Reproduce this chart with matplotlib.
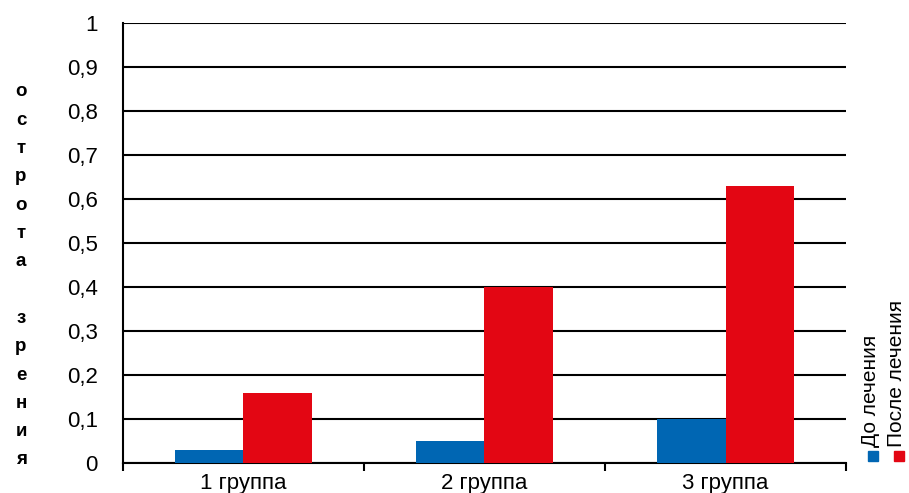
import matplotlib
matplotlib.use("Agg")
import matplotlib.pyplot as plt
from matplotlib.patches import Rectangle
import numpy as np

categories = ["1 группа", "2 группа", "3 группа"]
series_names = ["До лечения", "После лечения"]
before = [0.03, 0.05, 0.10]
after = [0.16, 0.40, 0.63]
colors = ["#0066B3", "#E30613"]
yticks = [0, 0.1, 0.2, 0.3, 0.4, 0.5, 0.6, 0.7, 0.8, 0.9, 1.0]
ytick_labels = ["0", "0,1", "0,2", "0,3", "0,4", "0,5", "0,6", "0,7", "0,8", "0,9", "1"]
ylabel = "острота зрения"

plt.rcParams['font.family'] = ['Liberation Sans', 'DejaVu Sans']

fig = plt.figure(figsize=(9.09, 4.93), dpi=100)
ax = fig.add_axes([0.1353, 0.0609, 0.9307 - 0.1353, 0.9533 - 0.0609])

x = np.arange(len(categories))
w = 0.286
ax.bar(x - w / 2, before, w, color=colors[0], zorder=3)
ax.bar(x + w / 2, after, w, color=colors[1], zorder=3)

ax.set_xlim(-0.5, len(categories) - 0.5)
ax.set_ylim(0, 1)
ax.set_yticks(yticks)
ax.set_yticklabels(ytick_labels, fontsize=16)
ax.yaxis.grid(True, color="black", linewidth=1.5, zorder=0)
ax.set_axisbelow(True)
ax.tick_params(axis="y", length=0, pad=18)

ax.set_xticks(x)
ax.set_xticklabels(categories, fontsize=16)
ax.set_xticks(np.arange(len(categories) + 1) - 0.5, minor=True)
ax.tick_params(axis="x", which="major", length=0, pad=7)
ax.tick_params(axis="x", which="minor", length=6, width=1.5, direction="out", color="black")

for s in ["top", "right"]:
    ax.spines[s].set_visible(False)
for s in ["left", "bottom"]:
    ax.spines[s].set_linewidth(1.5)
    ax.spines[s].set_color("black")

# stacked vertical y label
letters = list(ylabel)
y_top, y_bot = 1 - 92 / 493, 1 - 460 / 493
n = len(letters)
for i, ch in enumerate(letters):
    yy = y_top - i * (y_top - y_bot) / (n - 1)
    fig.text(21 / 909, yy, ch, ha="center", va="center", fontsize=13.5, fontweight="bold")

# rotated legend
leg_x = [871 / 909, 897 / 909]
for name, col, lx in zip(series_names, colors, leg_x):
    fig.patches.append(Rectangle((lx - 3 / 909, 1 - 461 / 493), 10 / 909, 10 / 493,
                                 transform=fig.transFigure, color=col))
    fig.text(lx, 1 - 447 / 493, name, rotation=90, ha="center", va="bottom", fontsize=15)

fig.savefig("out.png", dpi=100)
